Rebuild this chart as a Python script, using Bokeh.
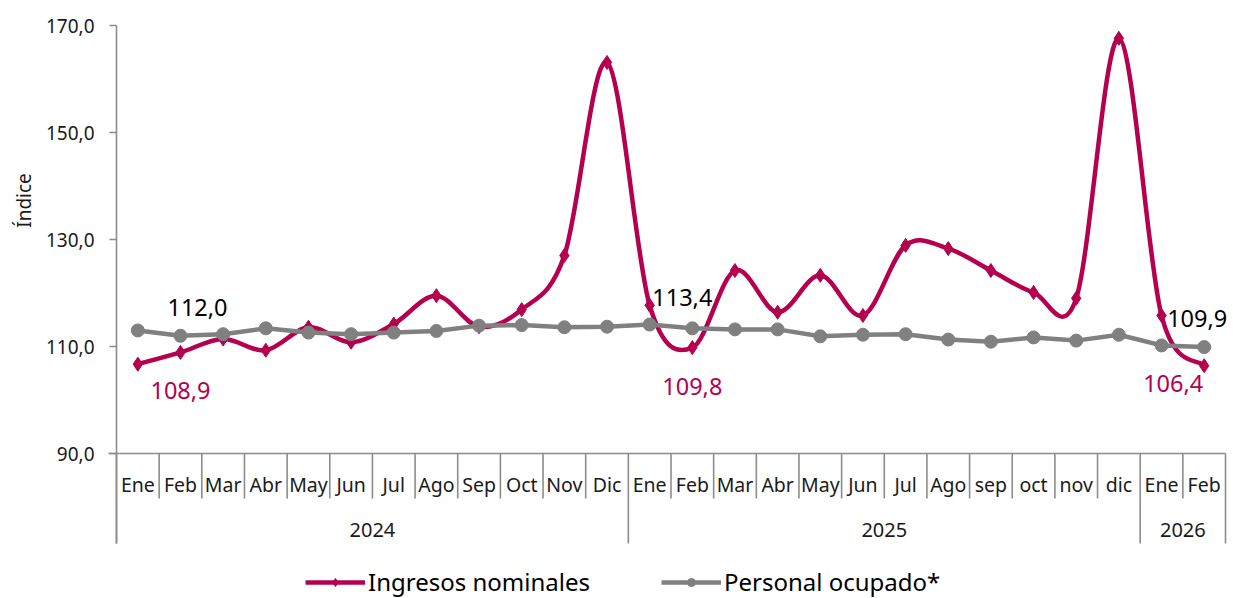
import math
import numpy as np
from bokeh.plotting import figure
from bokeh.models import Range1d, Legend, LegendItem, ColumnDataSource
from bokeh.core.properties import value
from bokeh.embed import file_html
from bokeh.resources import INLINE

# ---------------- data ----------------
months = ["Ene", "Feb", "Mar", "Abr", "May", "Jun", "Jul", "Ago", "Sep", "Oct", "Nov", "Dic",
          "Ene", "Feb", "Mar", "Abr", "May", "Jun", "Jul", "Ago", "sep", "oct", "nov", "dic",
          "Ene", "Feb"]
years = ["2024", "2025", "2026"]
year_counts = [12, 12, 2]
ingresos = [106.7, 108.9, 111.4, 109.3, 113.6, 110.8, 114.2, 119.5, 113.7, 116.9, 127.0, 163.1,
            117.7, 109.8, 124.2, 116.4, 123.3, 115.8, 128.9, 128.3, 124.2, 120.1, 119.0, 167.6,
            115.8, 106.4]
personal = [113.0, 112.0, 112.3, 113.4, 112.6, 112.3, 112.6, 112.9, 113.9, 114.0, 113.6, 113.7,
            114.1, 113.4, 113.2, 113.2, 111.9, 112.2, 112.3, 111.3, 110.9, 111.7, 111.1, 112.2,
            110.2, 109.9]
y_ticks = [90, 110, 130, 150, 170]
y_tick_labels = ["90,0", "110,0", "130,0", "150,0", "170,0"]
y_title = "Índice"
label_idx = [1, 13, 25]

# ---------------- style ----------------
FONT = "Noto Sans"
CRIM = "#B5004F"
GRAY = "#808080"
AXIS = "#8C8C8C"
TXT = "#1A1A1A"

W, H = 1233, 598
LEFT = 116        # px of category 0 edge
TOP = 25          # px of value 170
PXX = 42.654      # px per category
PXY = 5.35        # px per index unit
n = len(months)
y_max = y_ticks[-1]
x_start = -LEFT / PXX
x_end = (W - LEFT) / PXX
y_end = y_max + TOP / PXY
y_start = y_max - (H - TOP) / PXY
y_table = y_max - 518 / PXY      # bottom of the year rows
y_month = y_max - 473 / PXY      # bottom of the month row
y_mlab = y_max - 459 / PXY
y_ylab = y_max - 504 / PXY

p = figure(width=W, height=H, x_range=Range1d(x_start, x_end),
           y_range=Range1d(y_start, y_end), output_backend="svg",
           toolbar_location=None, x_axis_location=None, y_axis_location=None,
           min_border=0)
p.grid.visible = False
p.outline_line_color = None
p.background_fill_color = "white"
p.border_fill_color = "white"

# manual value axis
p.segment(x0=[0], y0=[y_max], x1=[0], y1=[y_table], line_color=AXIS, line_width=1.6)
p.segment(x0=[-7 / PXX] * len(y_ticks), y0=y_ticks, x1=[0] * len(y_ticks), y1=y_ticks,
          line_color=AXIS, line_width=1.6)
p.segment(x0=[-8 / PXX], y0=[y_ticks[0]], x1=[n], y1=[y_ticks[0]], line_color=AXIS, line_width=1.6)
p.text(x=[0] * len(y_ticks), y=y_ticks, text=y_tick_labels, x_offset=-22,
       text_align="right", text_baseline="middle", text_font=value(FONT),
       text_font_size="19px", text_color=TXT)
p.text(x=[(23 - LEFT) / PXX], y=[y_max - 175 / PXY], text=[y_title], angle=math.pi / 2,
       text_align="center", text_baseline="middle", text_font=value(FONT),
       text_font_size="19px", text_color=TXT)

# category table separators
bounds = [int(b) for b in np.cumsum([0] + year_counts)]
short_x = [i for i in range(1, n) if i not in bounds]
p.segment(x0=short_x, y0=[y_ticks[0]] * len(short_x), x1=short_x, y1=[y_month] * len(short_x),
          line_color=AXIS, line_width=1.6)
p.segment(x0=bounds, y0=[y_ticks[0]] * len(bounds), x1=bounds, y1=[y_table] * len(bounds),
          line_color=AXIS, line_width=1.6)

# category labels
xc = [i + 0.5 for i in range(n)]
p.text(x=xc, y=[y_mlab] * n, text=months, text_align="center", text_baseline="middle",
       text_font=value(FONT), text_font_size="19.5px", text_color=TXT)
yc = [(bounds[i] + bounds[i + 1]) / 2 for i in range(len(years))]
p.text(x=yc, y=[y_ylab] * len(years), text=years, text_align="center", text_baseline="middle",
       text_font=value(FONT), text_font_size="20px", text_color=TXT)

# smoothed ingresos curve (Catmull-Rom -> Bezier)
xs = np.array(xc)
ys = np.array(ingresos)
prev_x = np.concatenate([[xs[0]], xs[:-1]]); prev_y = np.concatenate([[ys[0]], ys[:-1]])
next_x = np.concatenate([xs[1:], [xs[-1]]]); next_y = np.concatenate([ys[1:], [ys[-1]]])
tx = (next_x - prev_x) / 6.0
ty = (next_y - prev_y) / 6.0
p.bezier(x0=xs[:-1], y0=ys[:-1], x1=xs[1:], y1=ys[1:],
         cx0=xs[:-1] + tx[:-1], cy0=ys[:-1] + ty[:-1],
         cx1=xs[1:] - tx[1:], cy1=ys[1:] - ty[1:],
         line_color=CRIM, line_width=4.5, line_cap="round")
ing_leg_line = p.line(x=np.array([np.nan]), y=np.array([np.nan]), line_color=CRIM, line_width=4.5)
ing_pts = p.scatter(x=xc, y=ingresos, marker="diamond", size=14, color=CRIM)

per_line = p.line(x=xc, y=personal, line_color=GRAY, line_width=4.5)
per_pts = p.scatter(x=xc, y=personal, marker="circle", size=13, color=GRAY)

# data labels
def fmt(v):
    return f"{v:.1f}".replace(".", ",")

ing_lab = ColumnDataSource(dict(x=[xc[i] for i in label_idx], y=[ingresos[i] for i in label_idx],
                                t=[fmt(ingresos[i]) for i in label_idx],
                                xo=[0, 0, -31], yo=[38, 39, 18]))
per_lab = ColumnDataSource(dict(x=[xc[i] for i in label_idx], y=[personal[i] for i in label_idx],
                                t=[fmt(personal[i]) for i in label_idx],
                                xo=[17, -10, -7], yo=[-28, -31, -29]))
p.text(x="x", y="y", text="t", x_offset="xo", y_offset="yo", source=ing_lab,
       text_align="center", text_baseline="middle", text_font=value(FONT),
       text_font_size="23.5px", text_color=CRIM)
p.text(x="x", y="y", text="t", x_offset="xo", y_offset="yo", source=per_lab,
       text_align="center", text_baseline="middle", text_font=value(FONT),
       text_font_size="23.5px", text_color="#000000")

legend = Legend(items=[LegendItem(label="Ingresos nominales", renderers=[ing_leg_line, ing_pts]),
                       LegendItem(label="Personal ocupado*", renderers=[per_line, per_pts])],
                location=(305, 0), orientation="horizontal", glyph_width=60, glyph_height=20,
                label_standoff=3, spacing=71, padding=0, margin=0,
                label_text_font=FONT, label_text_font_size="24px", label_text_color="#000000",
                border_line_color=None, background_fill_alpha=0)
p.add_layout(legend)

open("out.html", "w").write(file_html(p, INLINE))
